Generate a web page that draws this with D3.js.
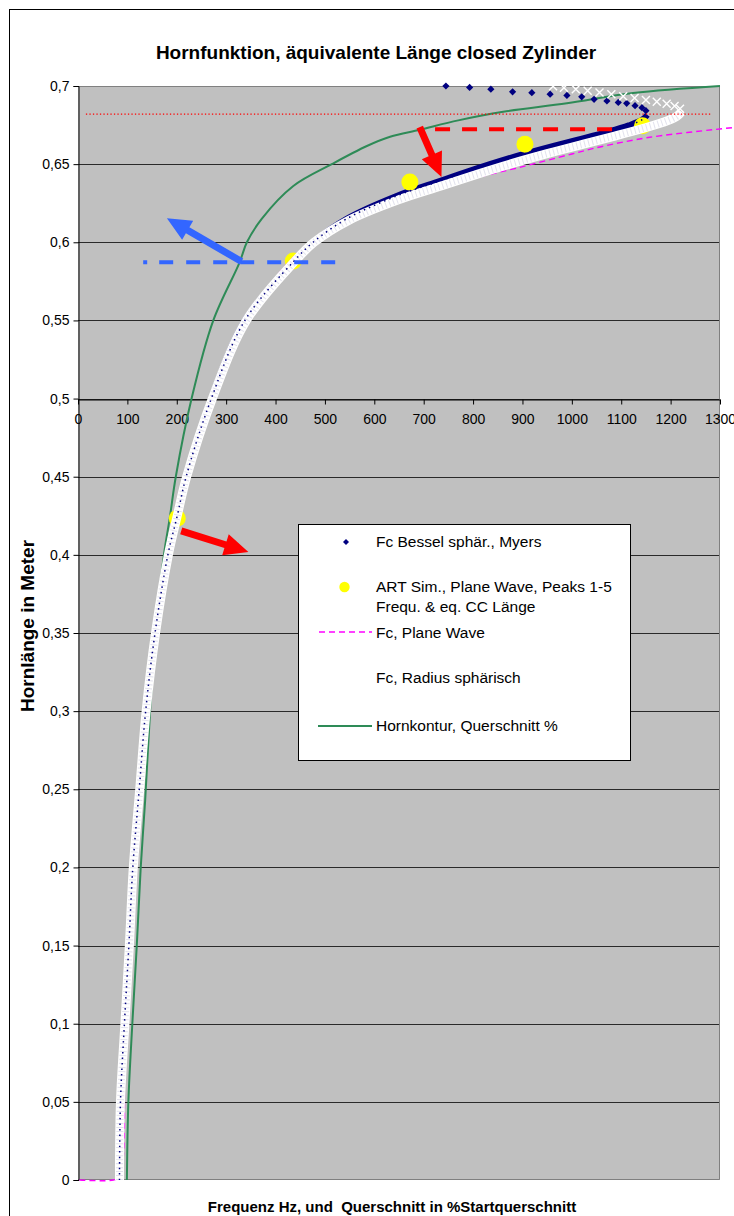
<!DOCTYPE html>
<html>
<head>
<meta charset="utf-8">
<script src="https://cdn.jsdelivr.net/npm/d3@7"></script>
<style>
  body { margin: 0; background: #fff; }
  svg { display: block; }
  text { font-family: Arial, "Liberation Sans", sans-serif; fill: #000; }
</style>
</head>
<body>
<svg id="chart" width="734" height="1216"></svg>
<script>
// ---- axis ticks ----
const freqTicks = [0,100,200,300,400,500,600,700,800,900,1000,1100,1200,1300];
const lenTicks  = [0,0.05,0.1,0.15,0.2,0.25,0.3,0.35,0.4,0.45,0.5,0.55,0.6,0.65,0.7];

// ---- Hornkontur, Querschnitt % (x = % of start cross-section, y = length in m) ----
const contourPct = [99,102,110,119,127,136,146,157,174,186,198,230,274,327,342,372,436,514,585,632,692,770,861,990,1124,1300];
const contourLen = [0,0.05,0.1,0.15,0.2,0.243,0.3,0.35,0.4,0.424,0.45,0.5,0.55,0.587,0.6,0.615,0.636,0.65,0.6616,0.6675,0.672,0.678,0.6835,0.6889,0.6955,0.7];

// ---- Fc Bessel sphär., Myers: dense trace and sparse points near the mouth ----
const myersFreq = [84,86,94,103,111,124,137,156,182,201,219,270,338,436,476,544,645,726,800,870,940,1010,1070,1115,1143,1153];
const myersLen  = [0,0.05,0.1,0.15,0.2,0.25,0.3,0.35,0.4,0.425,0.45,0.5,0.55,0.5875,0.6,0.615,0.6296,0.6385,0.6465,0.6535,0.6597,0.6655,0.6705,0.6748,0.6785,0.6815];
const myersTopFreq = [1150,1142,1128,1111,1094,1071,1045,1020,990,956,919,880,836,793,745];
const myersTopLen  = [0.6842,0.6861,0.6874,0.6889,0.6895,0.6904,0.6915,0.6931,0.694,0.6948,0.6957,0.6963,0.698,0.6991,0.7];

// ---- Fc, Radius sphärisch ----
const radiusFreq = [84,86,95,104,112,125,138,157,183,201,220,272,341,438,478,548,652,735,810,880,950,1020,1085,1140,1185,1212,1222];
const radiusLen  = [0,0.05,0.1,0.15,0.2,0.25,0.3,0.35,0.4,0.425,0.45,0.5,0.55,0.5875,0.6,0.614,0.6275,0.636,0.6437,0.6505,0.6567,0.6625,0.6678,0.6725,0.6768,0.6805,0.6835];
const radiusTopFreq = [1219,1208,1192,1172,1150,1127,1104,1080,1056,1032,1008,984,962];
const radiusTopLen  = [0.6855,0.6872,0.6886,0.6899,0.6911,0.6923,0.6935,0.6947,0.6958,0.6969,0.6979,0.6989,0.6998];

// ---- Fc, Plane Wave ----
const planeFreq = [3,72,84,95,111,137,182,270,340,470,640,767,882,1000,1057,1158,1330];
const planeLen  = [0,0,0.002,0.1,0.2,0.3,0.4,0.5,0.55,0.6,0.627,0.6385,0.647,0.6565,0.661,0.6672,0.6735];

// ---- ART Sim., Plane Wave, Peaks 1-5 ----
const artFreq = [201,436,672,905,1143];
const artLen  = [0.4234,0.588,0.6385,0.6627,0.6746];

// ---- annotations (data units) ----
const redDottedLevel = 0.682,  redDottedRange = [16,1284];
const redDashedLevel = 0.6723, redDashedRange = [723,1091];
const blueDashedLevel = 0.5872, blueDashedRange = [132,527];
const arrowFrom = [[692,0.6737],[331,0.5877],[209,0.4153]];
const arrowTo   = [[736,0.6418],[180,0.6154],[345,0.4019]];
const arrowColor = ["#ff0000","#3366ff","#ff0000"];

const legendLabels = ["Fc Bessel sphär., Myers","ART Sim., Plane Wave, Peaks 1-5","Frequ. & eq. CC Länge","Fc, Plane Wave","Fc, Radius sphärisch","Hornkontur, Querschnitt %"];

// ---------------------------------------------------------------
const svg = d3.select("#chart");
const x = d3.scaleLinear().domain([0,1300]).range([78,720]);
const y = d3.scaleLinear().domain([0,0.7]).range([1180,86]);
const zip = (a,b) => a.map((v,i) => [v,b[i]]);
const fmt = v => v === 0 ? "0" : String(+v.toFixed(2)).replace(".", ",");
const FONT = "Arial, 'Liberation Sans', sans-serif";

// chart frame
svg.append("rect").attr("x",9.5).attr("y",9.5).attr("width",800).attr("height",1300)
  .attr("fill","#fff").attr("stroke","#000").attr("stroke-width",1);

// plot area
svg.append("rect").attr("x",x(0)).attr("y",y(0.7)).attr("width",x(1300)-x(0)).attr("height",y(0)-y(0.7))
  .attr("fill","#c0c0c0");

// gridlines
svg.append("g").selectAll("line").data(lenTicks.filter(v => v > 0 && v < 0.7)).join("line")
  .attr("x1",x(0)).attr("x2",x(1300))
  .attr("y1",d => Math.round(y(d))+0.5).attr("y2",d => Math.round(y(d))+0.5)
  .attr("stroke","#2a2a2a").attr("stroke-width",1);

// plot border
svg.append("path")
  .attr("d",`M${x(0)},${y(0.7)+0.5}H${x(1300)-0.5}V${y(0)-0.5}H${x(0)}`)
  .attr("fill","none").attr("stroke","#808080").attr("stroke-width",1);

// y axis
const yAxis = d3.axisLeft(y).tickValues(lenTicks).tickFormat(fmt).tickSize(5).tickPadding(4);
const gy = svg.append("g").attr("transform",`translate(${x(0)+0.5},0)`).call(yAxis);
gy.select(".domain").attr("stroke","#000");
gy.selectAll(".tick line").attr("stroke","#000");
gy.selectAll(".tick text").attr("font-size",14).attr("font-family",FONT);

// x axis crossing at 0.5 m
const xAxis = d3.axisBottom(x).tickValues(freqTicks).tickFormat(d3.format("d")).tickSize(5).tickPadding(10).tickSizeOuter(0);
const gx = svg.append("g").attr("transform",`translate(0,${Math.round(y(0.5))+0.5})`).call(xAxis);
gx.select(".domain").attr("stroke","#000");
gx.selectAll(".tick line").attr("stroke","#000");
gx.selectAll(".tick text").attr("font-size",14).attr("font-family",FONT);

// ---- series ----
const smooth = d3.line().x(d => x(d[0])).y(d => y(d[1])).curve(d3.curveCatmullRom.alpha(0.5));
const straight = d3.line().x(d => x(d[0])).y(d => y(d[1]));

// horn contour
svg.append("path").attr("d",smooth(zip(contourPct,contourLen)))
  .attr("fill","none").attr("stroke","#2e8b57").attr("stroke-width",2);

// Myers trace and markers
const diamond = s => `M0,${-s}L${s},0L0,${s}L${-s},0Z`;
svg.append("path").attr("d",smooth(zip(myersFreq,myersLen)))
  .attr("fill","none").attr("stroke","#000080").attr("stroke-width",6).attr("stroke-linejoin","round");
svg.append("g").selectAll("path").data(zip(myersTopFreq,myersTopLen)).join("path")
  .attr("transform",d => `translate(${x(d[0])},${y(d[1])})`)
  .attr("d",diamond(3.6)).attr("fill","#000080");

// ART peaks
svg.append("g").selectAll("circle").data(zip(artFreq,artLen)).join("circle")
  .attr("cx",d => x(d[0])).attr("cy",d => y(d[1])).attr("r",8.5).attr("fill","#ffff00");

// plane wave
svg.append("path").attr("d",smooth(zip(planeFreq,planeLen)))
  .attr("fill","none").attr("stroke","#ff00ff").attr("stroke-width",1.4).attr("stroke-dasharray","6,4");

// radius sphärisch band of white crosses
svg.append("path").attr("d",smooth(zip(radiusFreq,radiusLen)))
  .attr("fill","none").attr("stroke","#ffffff").attr("stroke-width",9).attr("stroke-linejoin","round");
svg.append("path").attr("d",smooth(zip(radiusFreq,radiusLen)))
  .attr("fill","none").attr("stroke","#d6d6e6").attr("stroke-width",7).attr("stroke-dasharray","1,3").attr("opacity",0.7);
const cross = s => `M${-s},${-s}L${s},${s}M${-s},${s}L${s},${-s}`;
svg.append("g").selectAll("path").data(zip(radiusTopFreq,radiusTopLen)).join("path")
  .attr("transform",d => `translate(${x(d[0])},${y(d[1])})`)
  .attr("d",cross(4)).attr("stroke","#ffffff").attr("stroke-width",1.4).attr("fill","none");

// navy markers showing through the white band
svg.append("path").attr("d",smooth(zip(myersFreq,myersLen)))
  .attr("fill","none").attr("stroke","#000080").attr("stroke-width",1.5).attr("stroke-dasharray","1.5,4");

// ---- annotations ----
svg.append("line").attr("x1",x(redDottedRange[0])).attr("x2",x(redDottedRange[1]))
  .attr("y1",y(redDottedLevel)).attr("y2",y(redDottedLevel))
  .attr("stroke","#ff0000").attr("stroke-width",1.3).attr("stroke-dasharray","1.3,2.2");
svg.append("line").attr("x1",x(redDashedRange[0])).attr("x2",x(redDashedRange[1]))
  .attr("y1",y(redDashedLevel)).attr("y2",y(redDashedLevel))
  .attr("stroke","#ff0000").attr("stroke-width",4).attr("stroke-dasharray","15,12");
svg.append("line").attr("x1",x(blueDashedRange[0])).attr("x2",x(blueDashedRange[1]))
  .attr("y1",y(blueDashedLevel)).attr("y2",y(blueDashedLevel))
  .attr("stroke","#3366ff").attr("stroke-width",4)
  .attr("stroke-dasharray","4,12,14,13,14,13,14,13,14,13,14,13,14,13,14,13");

function arrowPath(p0, p1, shaft, headLen, headW) {
  const dx = p1[0]-p0[0], dy = p1[1]-p0[1], L = Math.hypot(dx,dy);
  const ux = dx/L, uy = dy/L, nx = -uy, ny = ux;
  const bx = p1[0]-ux*headLen, by = p1[1]-uy*headLen;
  const pt = (px,py,o) => [px+nx*o, py+ny*o];
  const pts = [pt(p0[0],p0[1],shaft/2), pt(bx,by,shaft/2), pt(bx,by,headW/2), p1,
               pt(bx,by,-headW/2), pt(bx,by,-shaft/2), pt(p0[0],p0[1],-shaft/2)];
  return "M" + pts.map(p => p.join(",")).join("L") + "Z";
}
svg.append("g").selectAll("path").data(d3.range(arrowFrom.length)).join("path")
  .attr("d",i => arrowPath([x(arrowFrom[i][0]),y(arrowFrom[i][1])],[x(arrowTo[i][0]),y(arrowTo[i][1])],7,24,22))
  .attr("fill",i => arrowColor[i]);

// ---- titles ----
svg.append("text").attr("x",376).attr("y",59).attr("text-anchor","middle")
  .attr("font-size",19).attr("font-weight","bold").text("Hornfunktion, äquivalente Länge closed Zylinder");
svg.append("text").attr("transform","translate(34,626) rotate(-90)").attr("text-anchor","middle")
  .attr("font-size",19).attr("font-weight","bold").text("Hornlänge in Meter");
svg.append("text").attr("x",392).attr("y",1212).attr("text-anchor","middle")
  .attr("font-size",15).attr("font-weight","bold").attr("xml:space","preserve")
  .text("Frequenz Hz, und  Querschnitt in %Startquerschnitt");

// ---- legend ----
const lg = svg.append("g");
lg.append("rect").attr("x",298.5).attr("y",524.5).attr("width",332).attr("height",236)
  .attr("fill","#fff").attr("stroke","#000").attr("stroke-width",1);
const tx = 376;
const rows = [541,586,606,632,677,725];
lg.selectAll("text").data(legendLabels).join("text")
  .attr("x",tx).attr("y",(d,i) => rows[i]+5.5).attr("font-size",15.5).text(d => d);
lg.append("path").attr("transform",`translate(346,${rows[0]+1})`).attr("d",diamond(3)).attr("fill","#000080");
lg.append("circle").attr("cx",344.5).attr("cy",rows[1]+1).attr("r",5.2).attr("fill","#ffff00");
lg.append("line").attr("x1",319).attr("x2",372).attr("y1",rows[3]).attr("y2",rows[3])
  .attr("stroke","#ff00ff").attr("stroke-width",1.4).attr("stroke-dasharray","6,4");
lg.append("line").attr("x1",318).attr("x2",372).attr("y1",rows[5]+1).attr("y2",rows[5]+1)
  .attr("stroke","#2e8b57").attr("stroke-width",2);
</script>
</body>
</html>
